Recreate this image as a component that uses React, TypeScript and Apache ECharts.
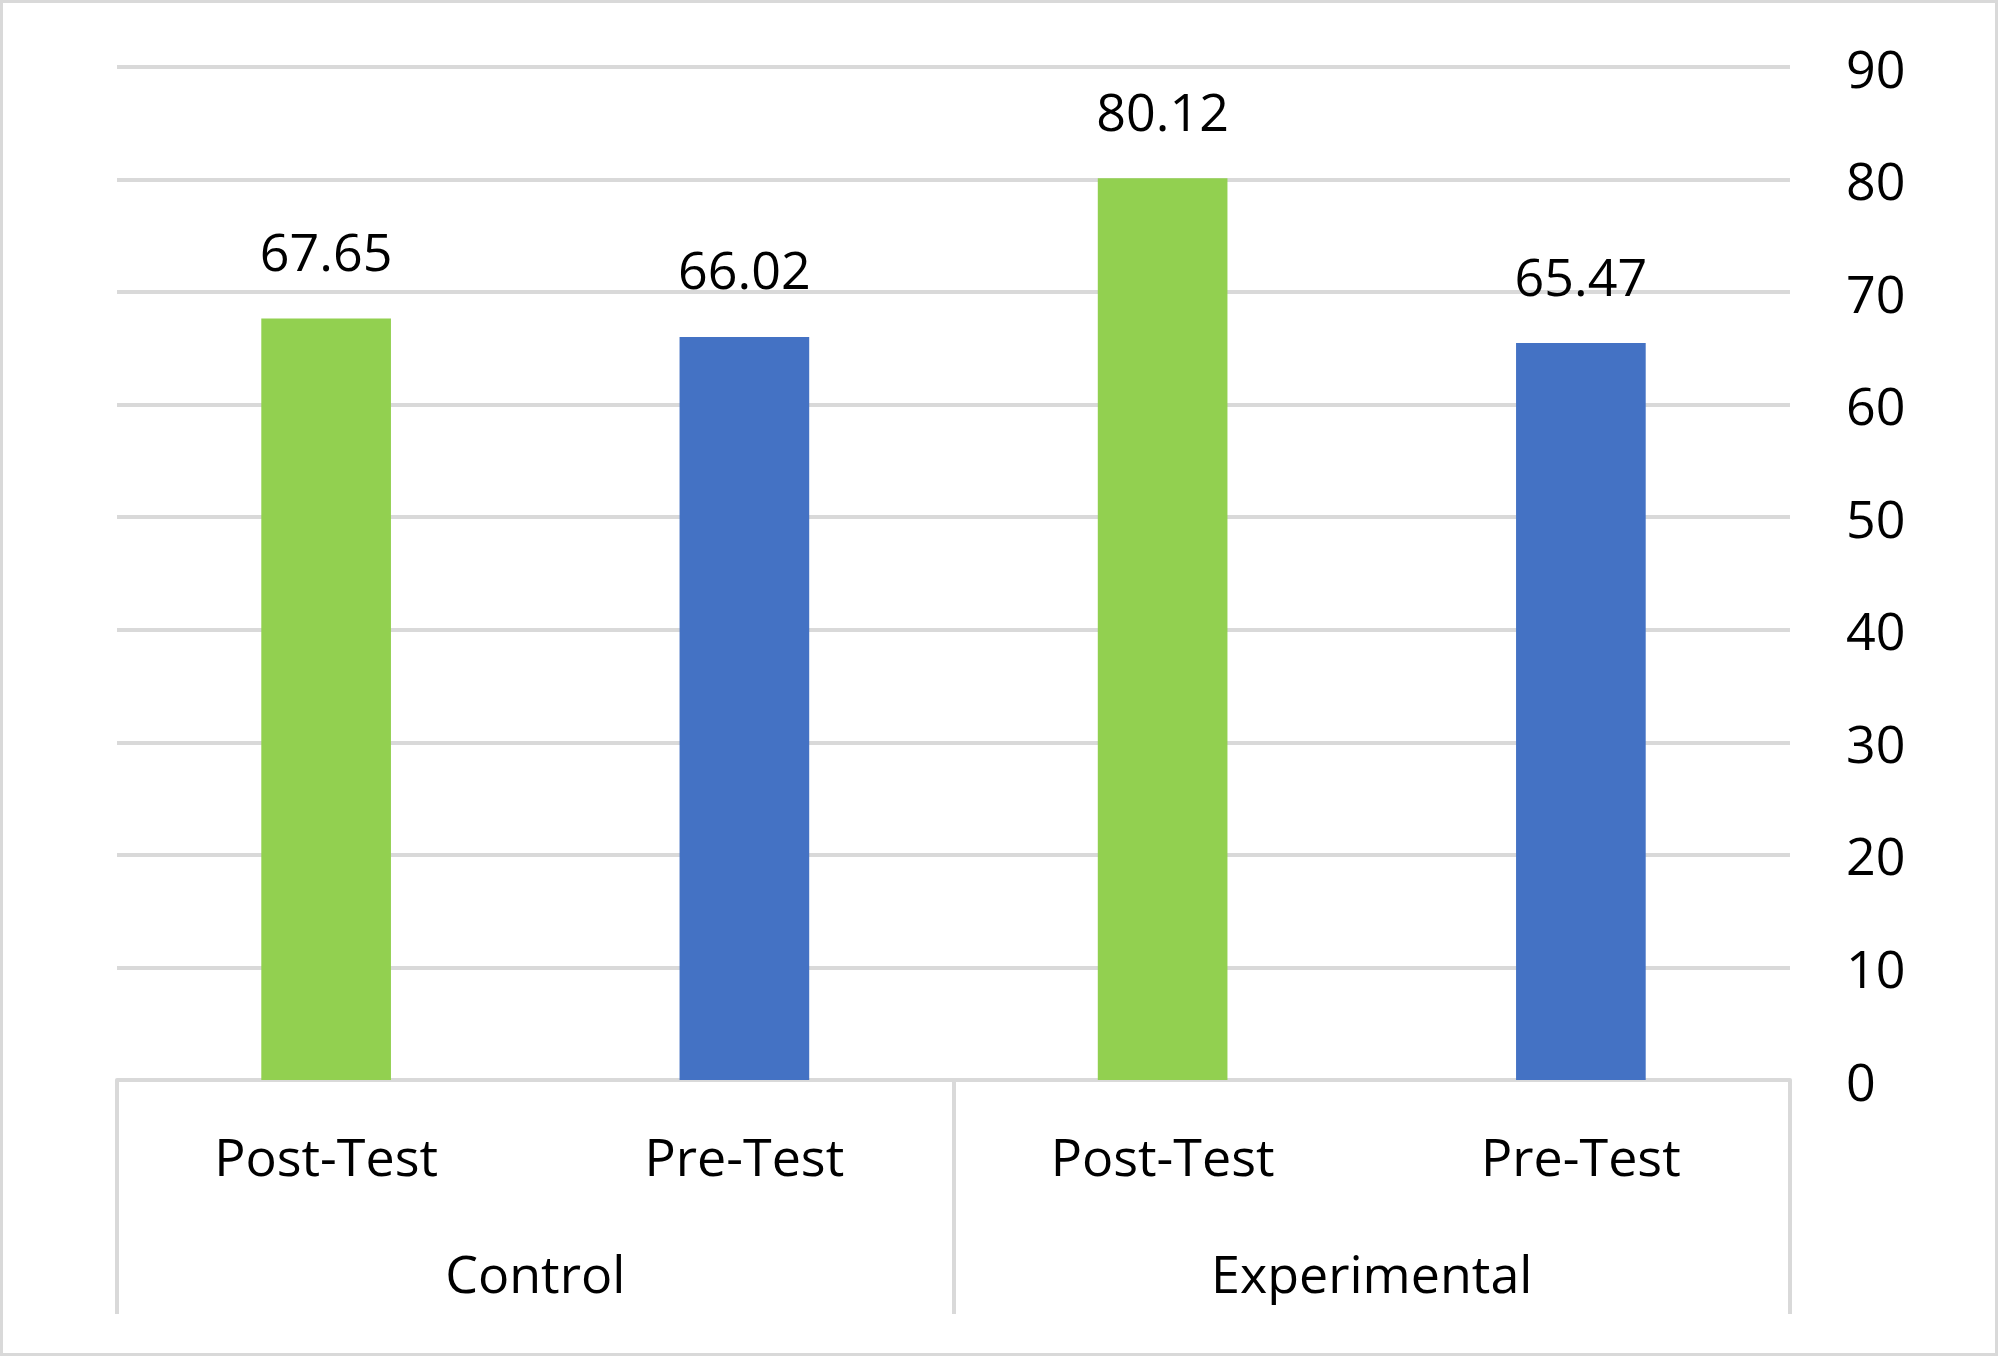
import React, { useEffect, useRef } from "react";
import * as echarts from "echarts";

const groups = ["Control", "Experimental"];
const tests = ["Post-Test", "Pre-Test", "Post-Test", "Pre-Test"];
const categoryKeys = ["Control|Post-Test", "Control|Pre-Test", "Experimental|Post-Test", "Experimental|Pre-Test"];
const values = [67.65, 66.02, 80.12, 65.47];
const barColors = ["#92D050", "#4472C4", "#92D050", "#4472C4"];
const yMin = 0;
const yMax = 90;
const yStep = 10;

const FONT = "Open Sans";
const LINE = "#d9d9d9";

export default function App() {
  const ref = useRef<HTMLDivElement>(null);
  useEffect(() => {
    if (!ref.current) return;
    const chart = echarts.init(ref.current, null, { renderer: "svg" });
    chart.setOption({
      animation: false,
      backgroundColor: "#ffffff",
      graphic: [
        {
          type: "rect",
          shape: { x: 1.5, y: 1.5, width: 1995, height: 1353 },
          style: { fill: "none", stroke: LINE, lineWidth: 3 },
          silent: true,
        },
      ],
      grid: { left: 117, right: 210, top: 67, bottom: 278 },
      xAxis: [
        {
          type: "category",
          data: categoryKeys,
          position: "bottom",
          axisLine: { show: true, lineStyle: { color: LINE, width: 4 } },
          axisTick: { show: false },
          axisLabel: {
            margin: 49,
            color: "#000",
            fontFamily: FONT,
            fontSize: 52,
            formatter: (_v: string, i: number) => tests[i],
          },
          splitLine: { show: false },
        },
        {
          type: "category",
          data: groups,
          position: "bottom",
          axisLine: { show: false },
          axisTick: { show: true, length: 234, lineStyle: { color: LINE, width: 4 } },
          axisLabel: {
            margin: 166,
            color: "#000",
            fontFamily: FONT,
            fontSize: 52,
          },
          splitLine: { show: false },
        },
      ],
      yAxis: {
        type: "value",
        position: "right",
        min: yMin,
        max: yMax,
        interval: yStep,
        axisLine: { show: false },
        axisTick: { show: false },
        axisLabel: {
          margin: 56,
          color: "#000",
          fontFamily: FONT,
          fontSize: 52,
          padding: [0, 0, 8, 0],
        },
        splitLine: { show: true, lineStyle: { color: LINE, width: 4 } },
      },
      series: [
        {
          type: "bar",
          xAxisIndex: 0,
          barWidth: "31%",
          data: values.map((v, i) => ({ value: v, itemStyle: { color: barColors[i] } })),
          label: {
            show: true,
            position: "top",
            distance: 42,
            color: "#000",
            fontFamily: FONT,
            fontSize: 52,
            formatter: (p: any) => Number(p.value).toFixed(2),
          },
        },
      ],
    });
    return () => chart.dispose();
  }, []);
  return (
    <div
      ref={ref}
      style={{ position: "fixed", left: 0, top: 0, width: 2000, height: 1358, background: "#fff" }}
    />
  );
}
